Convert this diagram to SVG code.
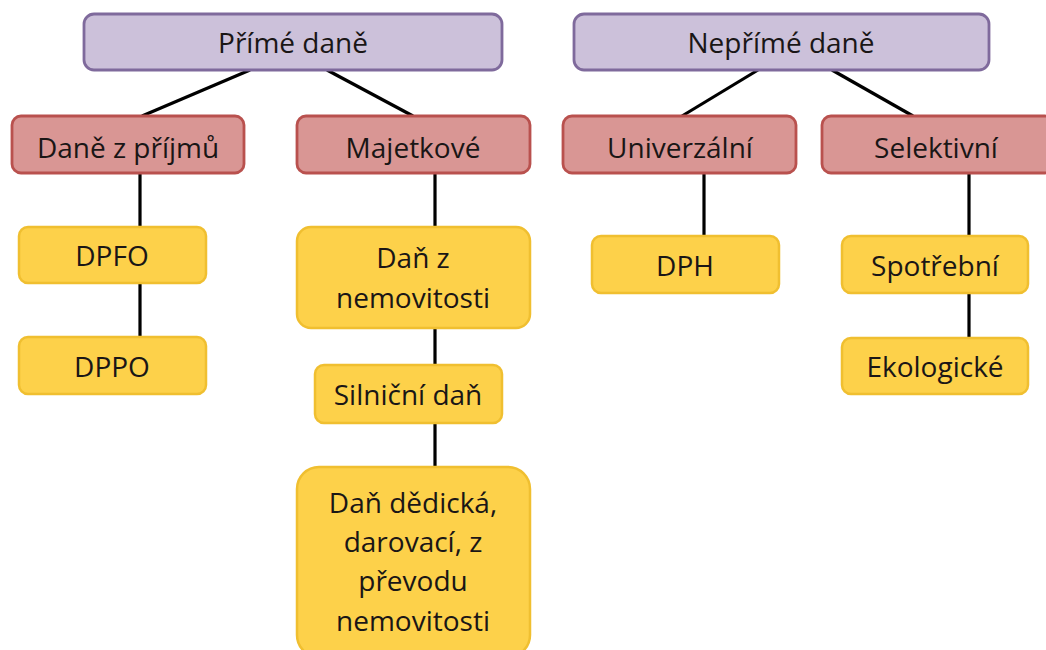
<svg xmlns="http://www.w3.org/2000/svg" width="1046" height="650" viewBox="0 0 1046 650">
<style>
.t{font-family:"Open Sans","Liberation Sans",sans-serif;font-size:28px;fill:#1a1616;text-anchor:middle}
.p{fill:#ccc1da;stroke:#7f6a9c;stroke-width:2.8}
.r{fill:#d99694;stroke:#b9514e;stroke-width:2.8}
.y{fill:#fdd14a;stroke:#f0bf30;stroke-width:2.5}
.c{stroke:#000;stroke-width:3.2;fill:none}
</style>
<rect width="1046" height="650" fill="#fff"/>
<g id="connectors">
<line class="c" x1="250" y1="70" x2="142" y2="116"/>
<line class="c" x1="327" y1="70" x2="413" y2="116"/>
<line class="c" x1="758" y1="70" x2="682" y2="116"/>
<line class="c" x1="832" y1="70" x2="913" y2="116"/>
<line class="c" x1="140" y1="173" x2="140" y2="227"/>
<line class="c" x1="140" y1="283" x2="140" y2="337"/>
<line class="c" x1="435" y1="173" x2="435" y2="227"/>
<line class="c" x1="435" y1="328" x2="435" y2="365"/>
<line class="c" x1="435" y1="423" x2="435" y2="467"/>
<line class="c" x1="704" y1="173" x2="704" y2="236"/>
<line class="c" x1="969" y1="173" x2="969" y2="236"/>
<line class="c" x1="969" y1="293" x2="969" y2="338"/>
</g>
<g id="prime">
<rect class="p" x="84" y="14" width="418" height="56" rx="10"/>
<text class="t" x="293" y="53">Přímé daně</text>
</g>
<g id="neprime">
<rect class="p" x="574" y="14" width="415" height="56" rx="10"/>
<text class="t" x="781" y="53">Nepřímé daně</text>
</g>
<g id="prijmy">
<rect class="r" x="12" y="116" width="232" height="57" rx="9"/>
<text class="t" x="128" y="158">Daně z příjmů</text>
</g>
<g id="majetkove">
<rect class="r" x="297" y="116" width="233" height="57" rx="9"/>
<text class="t" x="413" y="158">Majetkové</text>
</g>
<g id="univerzalni">
<rect class="r" x="563" y="116" width="233" height="57" rx="9"/>
<text class="t" x="680" y="158">Univerzální</text>
</g>
<g id="selektivni">
<rect class="r" x="822" y="116" width="232" height="57" rx="9"/>
<text class="t" x="936" y="158">Selektivní</text>
</g>
<g id="dpfo">
<rect class="y" x="19" y="227" width="187" height="56" rx="9"/>
<text class="t" x="112" y="266">DPFO</text>
</g>
<g id="dppo">
<rect class="y" x="19" y="337" width="187" height="57" rx="9"/>
<text class="t" x="112" y="377">DPPO</text>
</g>
<g id="nemovitosti">
<rect class="y" x="297" y="227" width="233" height="101" rx="14"/>
<text class="t" x="413" y="268">Daň z</text>
<text class="t" x="413" y="308">nemovitosti</text>
</g>
<g id="silnicni">
<rect class="y" x="315" y="365" width="187" height="58" rx="9"/>
<text class="t" x="408" y="405">Silniční daň</text>
</g>
<g id="dedicka">
<rect class="y" x="297" y="467" width="233" height="190" rx="22"/>
<text class="t" x="413" y="513">Daň dědická,</text>
<text class="t" x="413" y="552">darovací, z</text>
<text class="t" x="413" y="591">převodu</text>
<text class="t" x="413" y="631">nemovitosti</text>
</g>
<g id="dph">
<rect class="y" x="592" y="236" width="187" height="57" rx="9"/>
<text class="t" x="685" y="276">DPH</text>
</g>
<g id="spotrebni">
<rect class="y" x="842" y="236" width="186" height="57" rx="9"/>
<text class="t" x="935" y="276">Spotřební</text>
</g>
<g id="ekologicke">
<rect class="y" x="842" y="338" width="186" height="56" rx="9"/>
<text class="t" x="935" y="377">Ekologické</text>
</g>
</svg>
